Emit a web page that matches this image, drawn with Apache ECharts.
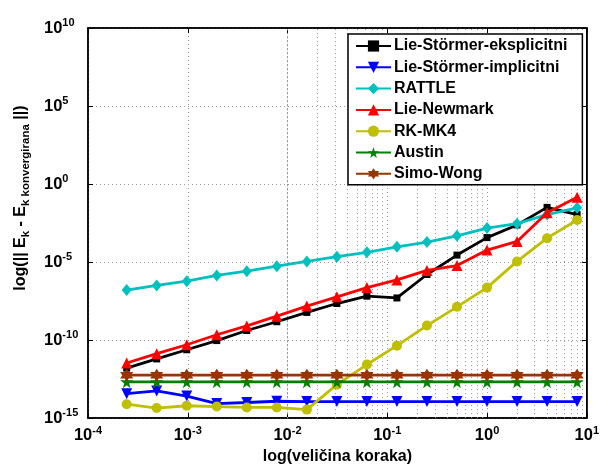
<!DOCTYPE html>
<html>
<head>
<meta charset="utf-8">
<script src="https://cdn.jsdelivr.net/npm/echarts@6/dist/echarts.min.js"></script>
<style>html,body{margin:0;padding:0;background:#fff}#c{width:602px;height:470px}</style>
</head>
<body>
<div id="c"></div>
<script>
// step sizes (x)
var stepSizes = [0.000244140625, 0.00048828125, 0.0009765625, 0.001953125, 0.00390625, 0.0078125, 0.015625, 0.03125, 0.0625, 0.125, 0.25, 0.5, 1, 2, 4, 8];
var seriesNames = ['Lie-Störmer-eksplicitni', 'Lie-Störmer-implicitni', 'RATTLE', 'Lie-Newmark', 'RK-MK4', 'Austin', 'Simo-Wong'];
var lieStormerEks = [1.6e-12, 6.2e-12, 2.4e-11, 9.3e-11, 4.1e-10, 1.5e-9, 5.9e-9, 2.2e-8, 6.5e-8, 5.0e-8, 1.6e-6, 2.8e-5, 3.7e-4, 2.4e-3, 3.2e-2, 1.1e-2];
var lieStormerImp = [3.7e-14, 5.5e-14, 2.6e-14, 8.5e-15, 1.0e-14, 1.2e-14, 1.15e-14, 1.15e-14, 1.15e-14, 1.15e-14, 1.15e-14, 1.15e-14, 1.15e-14, 1.15e-14, 1.15e-14, 1.15e-14];
var rattle = [1.6e-7, 3.2e-7, 6.0e-7, 1.4e-6, 2.6e-6, 5.4e-6, 1.1e-5, 2.2e-5, 4.2e-5, 9.5e-5, 1.9e-4, 4.8e-4, 1.5e-3, 2.9e-3, 1.1e-2, 3.0e-2];
var lieNewmark = [3.4e-12, 1.35e-11, 5.0e-11, 2.2e-10, 8.1e-10, 3.4e-9, 1.5e-8, 5.9e-8, 2.3e-7, 7.2e-7, 2.9e-6, 6.0e-6, 5.9e-5, 2.1e-4, 1.45e-2, 0.14];
var rkmk4 = [7.8e-15, 4.4e-15, 6.2e-15, 5.5e-15, 4.8e-15, 4.8e-15, 3.5e-15, 1.4e-13, 2.7e-12, 4.4e-11, 8.5e-10, 1.35e-8, 2.3e-7, 1.1e-5, 3.4e-4, 5.0e-3];
var austin = [2.1e-13, 2.1e-13, 2.1e-13, 2.1e-13, 2.1e-13, 2.1e-13, 2.1e-13, 2.1e-13, 2.1e-13, 2.1e-13, 2.1e-13, 2.1e-13, 2.1e-13, 2.1e-13, 2.1e-13, 2.1e-13];
var simoWong = [5.6e-13, 5.6e-13, 5.6e-13, 5.6e-13, 5.6e-13, 5.6e-13, 5.6e-13, 5.6e-13, 5.6e-13, 5.6e-13, 5.6e-13, 5.6e-13, 5.6e-13, 5.6e-13, 5.6e-13, 5.6e-13];
var xTickValues = [1e-4, 1e-3, 1e-2, 1e-1, 1e0, 1e1];
var yTickValues = [1e-15, 1e-10, 1e-5, 1e0, 1e5, 1e10];
var xMinorGrid = [2e-4,3e-4,4e-4,5e-4,6e-4,7e-4,8e-4,9e-4,2e-3,3e-3,4e-3,5e-3,6e-3,7e-3,8e-3,9e-3,2e-2,3e-2,4e-2,5e-2,6e-2,7e-2,8e-2,9e-2,0.2,0.3,0.4,0.5,0.6,0.7,0.8,0.9,2,3,4,5,6,7,8,9];

var FONT = 'Liberation Sans, Arial, sans-serif';
var allData = [lieStormerEks, lieStormerImp, rattle, lieNewmark, rkmk4, austin, simoWong];
var colors = ['#000000', '#0000ff', '#00bfbf', '#ff0000', '#bfbf00', '#008000', '#993300'];
var star5 = 'path://M50,0 L61,35 L98,35 L68,57 L79,91 L50,70 L21,91 L32,57 L2,35 L39,35 Z';
var star6 = 'path://M50,0 L64,25 L93,25 L79,50 L93,75 L64,75 L50,100 L36,75 L7,75 L21,50 L7,25 L36,25 Z';
var symbols = ['rect', 'path://M0,0 L100,0 L50,90 Z', 'diamond', 'triangle', 'circle', star5, star6];
var sizes = [7, 11, [10, 12], 11, 10, 13, 13];

function powLabel(v) {
  var e = Math.round(Math.log(v) / Math.LN10);
  return '{b|10}{e|' + e + '}';
}
var richLab = {
  b: {fontSize: 16.5, fontWeight: 'bold', fontFamily: FONT, color: '#000'},
  e: {fontSize: 11, fontWeight: 'bold', fontFamily: FONT, color: '#000', padding: [0, 0, 10, 0]}
};

var series = allData.map(function (arr, i) {
  return {
    name: seriesNames[i],
    type: 'line',
    data: arr.map(function (v, j) { return [stepSizes[j], v]; }),
    symbol: symbols[i],
    symbolSize: sizes[i],
    itemStyle: {color: colors[i]},
    lineStyle: {color: colors[i], width: 2.8},
    showAllSymbol: true,
    animation: false,
    z: 3 + i
  };
});
// minor vertical grid lines placed through the x scale
series[0].markLine = {
  silent: true, symbol: 'none', label: {show: false}, animation: false, z: 1,
  lineStyle: {color: '#999', type: [1, 3], width: 1},
  emphasis: {disabled: true},
  data: xMinorGrid.map(function (v) { return {xAxis: v}; })
};

var chart = echarts.init(document.getElementById('c'), null, {renderer: 'canvas'});
chart.setOption({
  backgroundColor: '#fff',
  animation: false,
  grid: {left: 88, right: 14, top: 28, bottom: 47, show: true, borderColor: '#000', borderWidth: 1.5, backgroundColor: 'transparent'},
  legend: {
    orient: 'vertical', left: 348, top: 34, z: 20,
    data: seriesNames,
    itemWidth: 35, itemHeight: 14, itemGap: 3.3,
    padding: [3, 15, 2, 7],
    backgroundColor: '#fff', borderColor: '#000', borderWidth: 1.5,
    textStyle: {fontSize: 16, lineHeight: 18, fontWeight: 'bold', fontFamily: FONT, color: '#000', padding: [0, 0, 0, -2]}
  },
  xAxis: [{
    type: 'log', logBase: 10, min: 1e-4, max: 10,
    name: 'log(veličina koraka)', nameLocation: 'middle', nameGap: 28,
    nameTextStyle: {fontSize: 16, fontWeight: 'bold', fontFamily: FONT, color: '#000'},
    axisLine: {show: true, lineStyle: {color: '#000', width: 1.5}},
    axisTick: {show: true, inside: true, length: 5, lineStyle: {color: '#000'}},
    axisLabel: {formatter: powLabel, rich: richLab, margin: 7, showMinLabel: true, showMaxLabel: true},
    splitLine: {show: true, lineStyle: {color: '#999', type: [1, 3], width: 1}}
  }, {
    type: 'log', logBase: 10, min: 1e-4, max: 10, position: 'top',
    axisLine: {show: true, lineStyle: {color: '#000', width: 1.5}},
    axisTick: {show: true, inside: true, length: 5, lineStyle: {color: '#000'}},
    axisLabel: {show: false}, splitLine: {show: false}
  }],
  yAxis: [{
    type: 'log', logBase: 10, min: 1e-15, max: 1e10, interval: 5,
    name: 'log(|| E{s|k} - E{s|k konvergirana} ||)', nameLocation: 'middle', nameGap: 56,
    nameTextStyle: {fontSize: 16, fontWeight: 'bold', fontFamily: FONT, color: '#000', padding: [0, 0, 0, 50],
      rich: {s: {fontSize: 11.5, fontWeight: 'bold', fontFamily: FONT, color: '#000', padding: [10, 0, 0, 0]}}},
    axisLine: {show: true, lineStyle: {color: '#000', width: 1.5}},
    axisTick: {show: true, inside: true, length: 5, lineStyle: {color: '#000'}},
    axisLabel: {formatter: powLabel, rich: richLab, margin: 44, align: 'left', showMinLabel: true, showMaxLabel: true},
    splitLine: {show: true, lineStyle: {color: '#999', type: [1, 3], width: 1}}
  }, {
    type: 'log', logBase: 10, min: 1e-15, max: 1e10, interval: 5, position: 'right',
    axisLine: {show: true, lineStyle: {color: '#000', width: 1.5}},
    axisTick: {show: true, inside: true, length: 5, lineStyle: {color: '#000'}},
    axisLabel: {show: false}, splitLine: {show: false}
  }],
  series: series
});
</script>
</body>
</html>
